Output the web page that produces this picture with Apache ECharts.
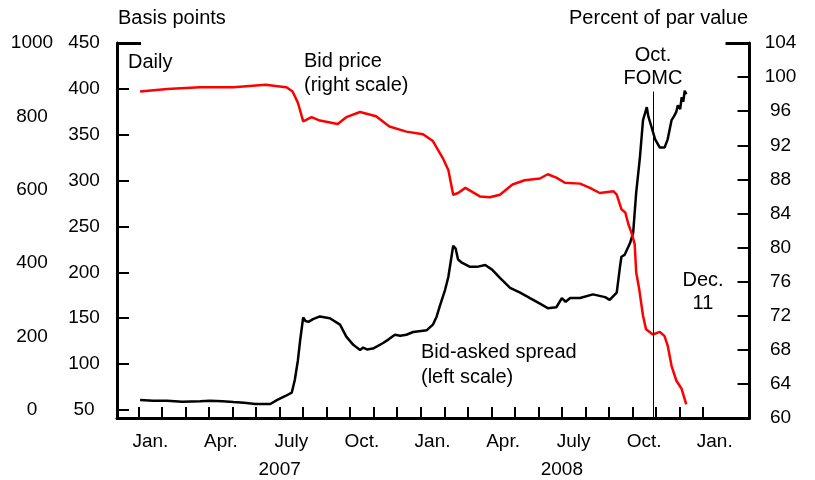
<!DOCTYPE html>
<html lang="en">
  <head>
    <meta charset="UTF-8" />
    <title>Bid price and bid-asked spread</title>
    <script src="https://cdn.jsdelivr.net/npm/echarts@6/dist/echarts.min.js"></script>
    <style>
      html, body { margin: 0; padding: 0; background: #fff; }
    </style>
  </head>
  <body>
    <div id="main" style="width: 815px; height: 480px"></div>
    <script>
      // spread (basis points, left scale)
      var spreadDates = [
        "2007-01-03", "2007-01-20", "2007-02-07", "2007-02-25", "2007-03-20", "2007-04-02",
        "2007-04-18", "2007-05-02", "2007-05-16", "2007-05-31", "2007-06-19", "2007-06-28",
        "2007-07-08", "2007-07-17", "2007-07-21", "2007-07-25", "2007-07-28", "2007-08-01",
        "2007-08-04", "2007-08-08", "2007-08-14", "2007-08-23", "2007-09-05", "2007-09-18",
        "2007-09-26", "2007-10-05", "2007-10-14", "2007-10-18", "2007-10-23", "2007-10-31",
        "2007-11-13", "2007-11-20", "2007-11-28", "2007-12-05", "2007-12-13", "2007-12-22",
        "2008-01-09", "2008-01-17", "2008-01-22", "2008-01-26", "2008-02-02", "2008-02-06",
        "2008-02-12", "2008-02-15", "2008-02-18", "2008-02-22", "2008-03-04", "2008-03-13",
        "2008-03-24", "2008-04-02", "2008-04-12", "2008-04-25", "2008-05-08", "2008-05-21",
        "2008-06-03", "2008-06-13", "2008-06-24", "2008-07-01", "2008-07-06", "2008-07-12",
        "2008-07-25", "2008-08-11", "2008-08-27", "2008-09-02", "2008-09-11", "2008-09-15",
        "2008-09-17", "2008-09-21", "2008-09-28", "2008-10-02", "2008-10-06", "2008-10-11",
        "2008-10-15", "2008-10-20", "2008-10-22", "2008-10-26", "2008-10-31", "2008-11-06",
        "2008-11-12", "2008-11-16", "2008-11-21", "2008-11-24", "2008-11-27", "2008-11-29",
        "2008-12-02", "2008-12-04", "2008-12-06", "2008-12-08", "2008-12-10"
      ];
      var spreadValues = [
        61, 60, 60, 59, 59.5, 60,
        59.5, 58.7, 58, 56.5, 56.5, 61,
        65, 69, 83, 104, 126, 151,
        147, 146, 149, 152, 150, 143,
        130, 121, 115.5, 118, 116, 117,
        123, 127, 132, 131, 132, 135,
        137, 143, 152, 163, 181, 195,
        229, 226, 214, 211, 206, 206,
        208, 203, 194, 183, 178, 172,
        166, 161, 162, 172, 168, 172,
        172, 176, 173, 170, 178, 205,
        217, 219, 232, 243, 287, 326,
        366, 380, 370, 359, 345, 336,
        336, 345, 366, 370, 375, 382,
        378, 391, 386, 398, 394
      ];

      // bid price (percent of par, right scale)
      var priceDates = [
        "2007-01-03", "2007-02-07", "2007-03-20", "2007-05-02", "2007-06-13", "2007-07-01",
        "2007-07-10", "2007-07-18", "2007-07-25", "2007-08-01", "2007-08-12", "2007-08-23",
        "2007-09-15", "2007-09-26", "2007-10-14", "2007-11-04", "2007-11-21", "2007-12-13",
        "2008-01-04", "2008-01-17", "2008-01-30", "2008-02-06", "2008-02-12", "2008-02-18",
        "2008-02-27", "2008-03-17", "2008-03-30", "2008-04-12", "2008-04-28", "2008-05-14",
        "2008-06-03", "2008-06-13", "2008-06-24", "2008-07-05", "2008-07-25", "2008-08-07",
        "2008-08-20", "2008-09-07", "2008-09-11", "2008-09-17", "2008-09-22", "2008-09-26",
        "2008-09-30", "2008-10-04", "2008-10-06", "2008-10-10", "2008-10-15", "2008-10-19",
        "2008-10-28", "2008-11-06", "2008-11-12", "2008-11-16", "2008-11-21", "2008-11-27",
        "2008-12-04", "2008-12-10"
      ];
      var priceValues = [
        98.3, 98.6, 98.8, 98.8, 99.1, 98.9,
        98.8, 98.3, 97.0, 94.8, 95.3, 94.9,
        94.5, 95.3, 95.9, 95.4, 94.2, 93.6,
        93.3, 92.5, 90.5, 89.1, 86.2, 86.4,
        87.0, 86.0, 85.9, 86.2, 87.4, 87.9,
        88.1, 88.6, 88.2, 87.6, 87.5, 87.0,
        86.4, 86.6, 86.2, 84.5, 84.1, 82.7,
        81.7, 80.4, 77.1, 75.1, 72.0, 70.4,
        69.8, 70.1, 69.6, 68.5, 66.1, 64.4,
        63.4, 61.6
      ];

      var innerTicks = [50, 100, 150, 200, 250, 300, 350, 400, 450];
      var outerTicks = [0, 200, 400, 600, 800, 1000];
      var monthNames = ["Jan.", "Apr.", "July", "Oct.", "Jan.", "Apr.", "July", "Oct.", "Jan."];
      var yearNames = ["2007", "2008"];
      var fomcDate = "2008-10-29";
      var fomcTop = 98.3;

      // months since Jan 1 2007
      function monthPos(s) {
        var p = s.split("-").map(Number);
        var days = new Date(p[0], p[1], 0).getDate();
        return (p[0] - 2007) * 12 + (p[1] - 1) + (p[2] - 1) / days;
      }
      function pairs(dates, vals) {
        return dates.map(function (d, i) {
          return [monthPos(d), vals[i]];
        });
      }

      var monthTicks = [];
      for (var i = 0; i <= 24; i++) monthTicks.push(i);
      var labelPos = monthNames.map(function (n, i) {
        return i * 3 + 0.5;
      });
      var yearPos = [6, 18];

      var font = "Liberation Sans, Arial, sans-serif";
      var fs = 19;
      var ts = 20;
      var xMin = -0.918, xMax = 25.98;

      function txt(x, y, s, align) {
        return {
          type: "text",
          x: x,
          y: y,
          style: {
            text: s,
            font: ts + "px " + font,
            fill: "#000",
            textAlign: align || "left",
            textVerticalAlign: "middle",
          },
        };
      }

      var myChart = echarts.init(document.getElementById("main"));
      var option = {
        animation: false,
        grid: { left: 117, right: 65.5, top: 43, bottom: 62 },
        xAxis: [
          {
            type: "value",
            min: xMin,
            max: xMax,
            splitLine: { show: false },
            axisLine: { show: true, onZero: false, lineStyle: { color: "#000", width: 3 } },
            axisTick: {
              show: true,
              inside: true,
              length: 11,
              customValues: monthTicks,
              lineStyle: { color: "#000", width: 2 },
            },
            axisLabel: {
              customValues: labelPos,
              margin: 14,
              color: "#000",
              fontFamily: font,
              fontSize: fs,
              formatter: function (v) {
                var k = labelPos.indexOf(v);
                return k >= 0 ? monthNames[k] : "";
              },
            },
          },
          {
            type: "value",
            min: xMin,
            max: xMax,
            position: "bottom",
            splitLine: { show: false },
            axisLine: { show: false, onZero: false },
            axisTick: { show: false },
            axisLabel: {
              customValues: yearPos,
              margin: 42,
              color: "#000",
              fontFamily: font,
              fontSize: fs,
              formatter: function (v) {
                return yearNames[yearPos.indexOf(v)];
              },
            },
          },
        ],
        yAxis: [
          {
            // inner left scale
            type: "value",
            position: "left",
            min: 41.28,
            max: 450,
            splitLine: { show: false },
            axisLine: { show: true, onZero: false, lineStyle: { color: "#000", width: 3 } },
            axisTick: {
              show: true,
              inside: true,
              length: 12,
              customValues: innerTicks,
              lineStyle: { color: "#000", width: 2 },
            },
            axisLabel: {
              customValues: innerTicks,
              align: "center",
              margin: 33,
              color: "#000",
              fontFamily: font,
              fontSize: fs,
            },
          },
          {
            // outer left scale
            type: "value",
            position: "left",
            min: -21.81,
            max: 1000,
            splitLine: { show: false },
            axisLine: { show: false, onZero: false },
            axisTick: { show: false },
            axisLabel: {
              customValues: outerTicks,
              align: "center",
              margin: 85,
              color: "#000",
              fontFamily: font,
              fontSize: fs,
              formatter: function (v) {
                return String(v);
              },
            },
          },
          {
            // right scale
            type: "value",
            position: "right",
            min: 60,
            max: 104,
            interval: 4,
            splitLine: { show: false },
            axisLine: { show: true, onZero: false, lineStyle: { color: "#000", width: 3 } },
            axisTick: {
              show: true,
              inside: true,
              length: 12,
              lineStyle: { color: "#000", width: 2 },
            },
            axisLabel: {
              align: "center",
              margin: 31,
              color: "#000",
              fontFamily: font,
              fontSize: fs,
            },
          },
          {
            // top caps
            type: "value",
            position: "left",
            min: 41.28,
            max: 450,
            splitLine: { show: false },
            axisLine: { show: false, onZero: false },
            axisTick: {
              show: true,
              inside: true,
              length: 24,
              customValues: [450],
              lineStyle: { color: "#000", width: 3 },
            },
            axisLabel: { show: false },
          },
          {
            type: "value",
            position: "right",
            min: 60,
            max: 104,
            splitLine: { show: false },
            axisLine: { show: false, onZero: false },
            axisTick: {
              show: true,
              inside: true,
              length: 24,
              customValues: [104],
              lineStyle: { color: "#000", width: 3 },
            },
            axisLabel: { show: false },
          },
        ],
        series: [
          {
            name: "Bid-asked spread",
            type: "line",
            xAxisIndex: 0,
            yAxisIndex: 0,
            data: pairs(spreadDates, spreadValues),
            showSymbol: false,
            lineStyle: { color: "#000", width: 2.5 },
          },
          {
            name: "Bid price",
            type: "line",
            xAxisIndex: 0,
            yAxisIndex: 2,
            data: pairs(priceDates, priceValues),
            showSymbol: false,
            lineStyle: { color: "#ff0000", width: 2.5 },
            markLine: {
              silent: true,
              symbol: "none",
              label: { show: false },
              lineStyle: { color: "#000", width: 1, type: "solid" },
              data: [
                [
                  { coord: [monthPos(fomcDate), fomcTop] },
                  { coord: [monthPos(fomcDate), 60] },
                ],
              ],
            },
          },
        ],
        graphic: [
          txt(118, 18, "Basis points"),
          txt(748, 18, "Percent of par value", "right"),
          txt(128, 62, "Daily"),
          txt(304, 61, "Bid price"),
          txt(304, 85, "(right scale)"),
          txt(653, 55, "Oct.", "center"),
          txt(653, 78, "FOMC", "center"),
          txt(703, 280, "Dec.", "center"),
          txt(703, 303, "11", "center"),
          txt(421, 352, "Bid-asked spread"),
          txt(421, 377, "(left scale)"),
        ],
      };
      myChart.setOption(option);
    </script>
  </body>
</html>
